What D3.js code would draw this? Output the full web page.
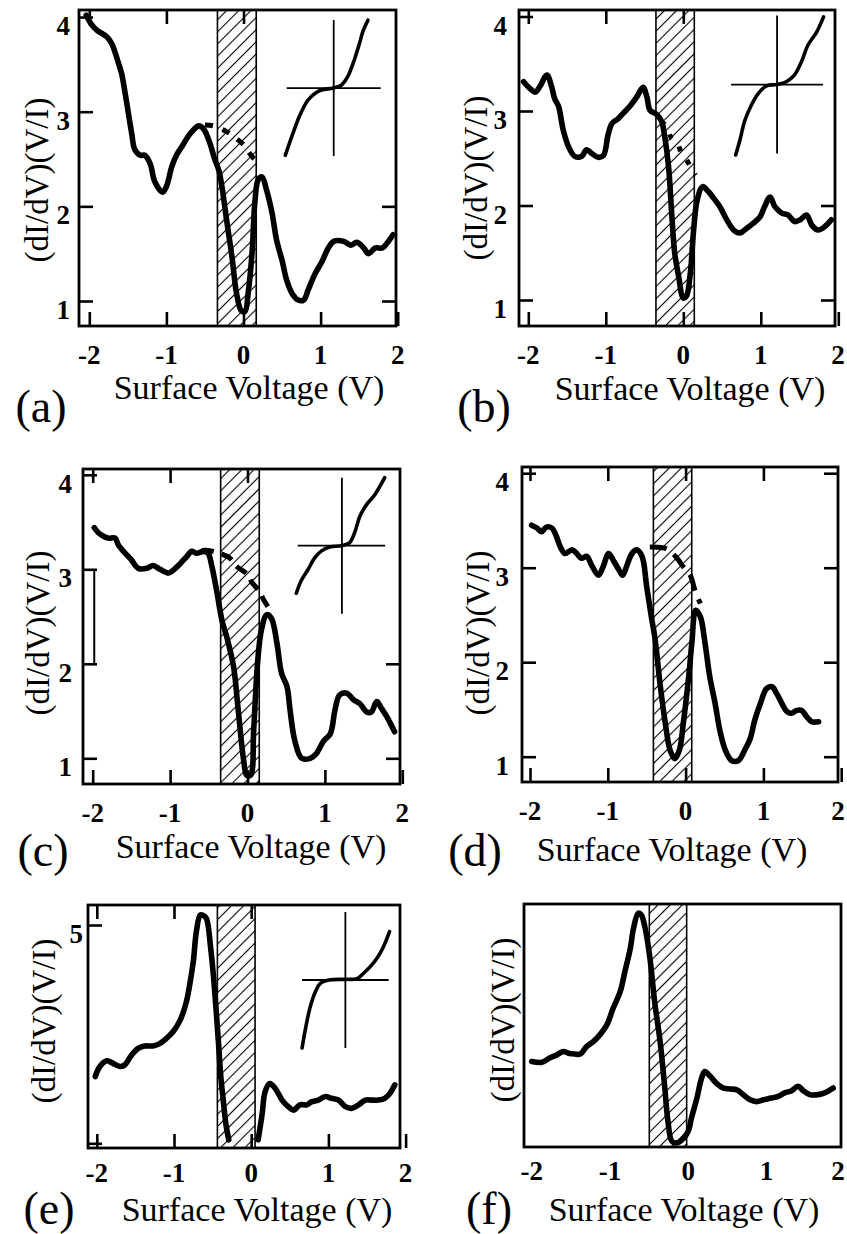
<!DOCTYPE html>
<html>
<head>
<meta charset="utf-8">
<script src="https://cdn.jsdelivr.net/npm/d3@7"></script>
<style>
  body { margin: 0; background: #fff; }
</style>
</head>
<body>
<div id="fig"></div>
<script>
//----------------------------------------------------------------
// data, (dI/dV)/(I/V) against sample bias
//----------------------------------------------------------------
var xTicks = [-2, -1, 0, 1, 2];
var yTicks = [1, 2, 3, 4];
var yTicksE = [0, 5];
var yLabelsE = ["", "5"];
var tags = ["(a)", "(b)", "(c)", "(d)", "(e)", "(f)"];
var xTitle = "Surface Voltage (V)";
var yTitle = "(dI/dV)(V/I)";

// (a)
var voltA = [-2.04,-1.97,-1.90,-1.77,-1.71,-1.62,-1.58,-1.52,-1.45,-1.41,-1.34,-1.28,-1.21,-1.15,-1.05,-1.00,-0.93,-0.87,-0.80,-0.69,-0.58,-0.52,-0.45,-0.37,-0.32,-0.28,-0.22,-0.15,-0.09,-0.03,0.02,0.06,0.11,0.15,0.19,0.24,0.30,0.37,0.43,0.50,0.56,0.63,0.71,0.78,0.84,0.93,1.02,1.10,1.17,1.30,1.39,1.47,1.56,1.62,1.71,1.80,1.86,1.94];
var condA = [4.02,3.92,3.86,3.79,3.72,3.51,3.40,3.12,2.77,2.60,2.54,2.54,2.45,2.26,2.15,2.21,2.42,2.54,2.63,2.77,2.85,2.82,2.70,2.49,2.38,2.21,1.86,1.47,1.08,0.90,0.89,1.08,1.50,2.07,2.28,2.31,2.17,1.93,1.64,1.43,1.22,1.08,1.01,1.01,1.12,1.29,1.42,1.56,1.63,1.63,1.59,1.62,1.56,1.50,1.56,1.56,1.61,1.70];
var dashVoltA = [-0.50,-0.39,-0.22,-0.13,0.00,0.06,0.15,0.24];
var dashCondA = [2.86,2.85,2.79,2.74,2.65,2.58,2.49,2.44];
var gapA = [-0.338, 0.165];
var ivUA = [-1.03,-0.87,-0.72,-0.55,-0.40,-0.26,-0.01,0.16,0.30,0.41,0.55,0.62,0.73];
var ivWA = [-0.99,-0.67,-0.40,-0.18,-0.08,-0.03,0,0.04,0.17,0.36,0.66,0.83,1.0];

// (b)
var voltB = [-2.06,-1.98,-1.91,-1.85,-1.76,-1.70,-1.66,-1.61,-1.55,-1.48,-1.40,-1.31,-1.25,-1.18,-1.10,-1.03,-0.97,-0.92,-0.84,-0.77,-0.69,-0.60,-0.52,-0.47,-0.43,-0.34,-0.28,-0.24,-0.19,-0.15,-0.11,-0.06,0.00,0.04,0.09,0.13,0.18,0.25,0.32,0.39,0.47,0.56,0.65,0.73,0.82,0.90,0.99,1.05,1.12,1.18,1.27,1.35,1.44,1.51,1.59,1.66,1.74,1.83,1.91];
var condB = [3.31,3.24,3.20,3.26,3.38,3.26,3.13,3.05,2.80,2.62,2.52,2.52,2.59,2.55,2.51,2.53,2.75,2.87,2.92,2.98,3.05,3.15,3.25,3.15,3.01,2.96,2.89,2.73,2.41,1.92,1.49,1.25,1.02,1.04,1.28,1.71,2.06,2.20,2.15,2.08,1.99,1.85,1.74,1.71,1.76,1.81,1.88,1.99,2.09,1.99,1.92,1.90,1.83,1.85,1.90,1.79,1.74,1.78,1.85];
var dashVoltB = [-0.30,-0.24,-0.15,-0.09,-0.02,0.03,0.11,0.16];
var dashCondB = [2.87,2.86,2.71,2.68,2.55,2.50,2.38,2.32];
var gapB = [-0.353, 0.142];
var ivUB = [-0.90,-0.81,-0.70,-0.56,-0.41,-0.23,0,0.20,0.38,0.53,0.67,0.86,1.01];
var ivWB = [-1.02,-0.81,-0.52,-0.30,-0.13,-0.02,0,0.04,0.14,0.33,0.57,0.76,0.98];

// (c)
var voltC = [-1.98,-1.93,-1.86,-1.80,-1.71,-1.67,-1.58,-1.50,-1.41,-1.30,-1.22,-1.13,-1.02,-0.96,-0.87,-0.79,-0.72,-0.66,-0.57,-0.51,-0.46,-0.40,-0.33,-0.27,-0.18,-0.12,-0.05,-0.01,0.04,0.08,0.13,0.18,0.25,0.31,0.38,0.44,0.51,0.55,0.61,0.70,0.81,0.89,0.98,1.07,1.13,1.19,1.28,1.37,1.45,1.54,1.60,1.67,1.73,1.80,1.90];
var condC = [3.44,3.39,3.35,3.33,3.33,3.26,3.17,3.10,3.01,3.01,3.04,3.00,2.96,2.99,3.06,3.13,3.19,3.17,3.19,3.17,3.03,2.78,2.46,2.29,1.97,1.51,0.98,0.82,0.82,1.30,2.01,2.36,2.52,2.48,2.22,1.90,1.76,1.51,1.19,1.00,1.00,1.05,1.18,1.26,1.51,1.67,1.69,1.62,1.58,1.49,1.49,1.60,1.53,1.44,1.28];
var dashVoltC = [-0.59,-0.51,-0.36,-0.23,-0.14,0.01,0.05,0.16,0.20,0.29];
var dashCondC = [3.20,3.20,3.17,3.12,3.03,2.94,2.87,2.76,2.69,2.57];
var gapC = [-0.347, 0.152];
var bracketC = [[-1.98, 3], [-1.98, 2]];
var ivUC = [-0.97,-0.87,-0.72,-0.58,-0.44,-0.26,0,0.16,0.27,0.38,0.52,0.70,0.91];
var ivWC = [-0.70,-0.52,-0.35,-0.18,-0.08,-0.02,0,0.04,0.19,0.43,0.60,0.75,1.0];

// (d)
var voltD = [-1.98,-1.91,-1.85,-1.79,-1.72,-1.66,-1.61,-1.55,-1.46,-1.40,-1.34,-1.27,-1.21,-1.12,-1.06,-0.99,-0.93,-0.86,-0.81,-0.76,-0.71,-0.67,-0.63,-0.56,-0.50,-0.44,-0.39,-0.33,-0.26,-0.20,-0.14,-0.08,-0.03,0.04,0.08,0.13,0.19,0.25,0.31,0.38,0.44,0.51,0.59,0.68,0.76,0.83,0.89,0.96,1.04,1.11,1.17,1.24,1.30,1.36,1.43,1.49,1.56,1.62,1.71];
var condD = [3.45,3.42,3.38,3.43,3.42,3.33,3.22,3.15,3.19,3.15,3.10,3.12,3.03,2.92,3.01,3.15,3.08,2.98,2.92,3.01,3.12,3.17,3.19,3.12,2.80,2.48,2.23,1.78,1.35,1.07,0.98,1.07,1.35,1.85,2.20,2.55,2.48,2.20,1.85,1.56,1.28,1.07,0.96,0.96,1.07,1.19,1.39,1.56,1.72,1.74,1.67,1.56,1.48,1.46,1.49,1.49,1.42,1.37,1.37];
var dashVoltD = [-0.46,-0.24,-0.11,-0.03,0.06,0.12,0.19];
var dashCondD = [3.22,3.20,3.10,3.01,2.92,2.76,2.62];
var gapD = [-0.414, 0.079];

// (e)  null = break in the trace
var voltE = [-2.02,-1.96,-1.87,-1.79,-1.70,-1.64,-1.55,-1.46,-1.38,-1.27,-1.18,-1.10,-1.01,-0.92,-0.84,-0.79,-0.75,-0.71,-0.66,-0.62,-0.58,-0.525,-0.49,-0.456,-0.425,-0.395,-0.36,-0.326,-0.29,-0.10,0.09,0.14,0.18,0.24,0.31,0.40,0.48,0.55,0.63,0.72,0.78,0.87,0.96,1.04,1.13,1.22,1.30,1.39,1.48,1.56,1.65,1.73,1.80,1.86];
var condE = [1.53,1.76,1.89,1.83,1.76,1.79,2.02,2.18,2.23,2.23,2.29,2.40,2.56,2.82,3.24,3.70,4.16,4.85,5.23,5.22,5.15,4.47,3.85,3.09,2.33,1.56,0.95,0.42,0.08,null,0.08,0.65,1.18,1.37,1.26,0.99,0.84,0.76,0.88,0.88,0.95,0.99,1.07,1.03,0.99,0.84,0.80,0.88,0.99,0.99,0.99,1.03,1.15,1.34];
var gapE = [-0.438, 0.05];
var ivUE = [-1,-0.92,-0.81,-0.69,-0.58,-0.38,0,0.27,0.42,0.58,0.73,0.88,1.02];
var ivWE = [-1,-0.71,-0.39,-0.17,-0.05,0,0.01,0.02,0.10,0.20,0.32,0.49,0.71];

// (f)
var voltF = [-2.0,-1.87,-1.77,-1.68,-1.60,-1.53,-1.45,-1.38,-1.30,-1.21,-1.13,-1.04,-0.96,-0.87,-0.81,-0.74,-0.70,-0.64,-0.60,-0.55,-0.49,-0.43,-0.36,-0.30,-0.26,-0.21,-0.15,-0.06,0.00,0.04,0.11,0.17,0.21,0.28,0.36,0.45,0.53,0.62,0.70,0.79,0.87,0.96,1.06,1.15,1.23,1.32,1.40,1.47,1.55,1.66,1.74,1.85];
var condF = [1.87,1.85,1.95,2.02,2.10,2.06,2.04,2.04,2.21,2.33,2.48,2.71,3.09,3.47,3.93,4.47,4.92,5.27,5.23,4.92,4.24,3.24,2.33,1.26,0.50,0.04,0.00,0.11,0.27,0.57,1.03,1.49,1.64,1.53,1.37,1.26,1.24,1.22,1.11,0.99,0.95,0.99,1.03,1.07,1.15,1.20,1.30,1.20,1.11,1.11,1.15,1.26];
var gapF = [-0.498, -0.021];

//----------------------------------------------------------------
// page layout (pixels) for each panel
//----------------------------------------------------------------
var serif = "'Liberation Serif', 'Times New Roman', 'DejaVu Serif', serif";
var W = 847, H = 1234;

var panels = [
  { tag: tags[0], volt: voltA, cond: condA, dv: dashVoltA, dc: dashCondA, dash: "8,10", gap: gapA,
    frame: [79, 10, 396, 326], xr: [89.3, 397.7], yd: [1, 3], yr: [301, 111.7],
    left: yTicks, leftLab: yTicks.map(String), top: [-2, -1, 0], right: [1, 2], bottom: xTicks,
    labOff: 38, labGap: 9, yt: [36, 180], xt: [249, 399], tg: [41, 422],
    iu: ivUA, iw: ivWA, inAt: [1.17, 3.25], inHalf: [47, 68], inAxis: [-1, 1] },
  { tag: tags[1], volt: voltB, cond: condB, dv: dashVoltB, dc: dashCondB, dash: "5,11", gap: gapB,
    frame: [519, 10, 835, 326], xr: [528.3, 838.3], yd: [1, 3], yr: [300, 111],
    left: yTicks, leftLab: yTicks.map(String), top: [-2, -1, 0], right: [1, 2], bottom: xTicks,
    labOff: 38, labGap: 12, yt: [475, 178], xt: [690, 400], tg: [484, 422],
    iu: ivUB, iw: ivWB, inAt: [1.21, 3.28], inHalf: [46, 69], inAxis: [-1, 1] },
  { tag: tags[2], volt: voltC, cond: condC, dv: dashVoltC, dc: dashCondC, dash: "12,8", gap: gapC,
    frame: [83, 469, 400, 784], xr: [92.7, 402.3], yd: [1, 3], yr: [758.3, 569.3],
    left: yTicks, leftLab: yTicks.map(String), top: [-2, -1, 0], right: [1, 2], bottom: xTicks,
    labOff: 38, labGap: 11, yt: [37, 633], xt: [251, 858], tg: [43, 866], bracket: bracketC,
    iu: ivUC, iw: ivWC, inAt: [1.22, 3.25], inHalf: [47, 68], inAxis: [-0.94, 0.92] },
  { tag: tags[3], volt: voltD, cond: condD, dv: dashVoltD, dc: dashCondD, dash: "17,9", gap: gapD,
    frame: [522, 467, 838, 782], xr: [530, 841.2], yd: [1, 3], yr: [756.7, 567.7],
    left: yTicks, leftLab: yTicks.map(String), top: [-2, -1, 0, 1], right: yTicks, bottom: xTicks,
    labOff: 38, labGap: 13, yt: [477, 633], xt: [672, 861], tg: [475, 866] },
  { tag: tags[4], volt: voltE, cond: condE, gap: gapE,
    frame: [88, 905, 400, 1148], xr: [96.8, 405.6], yd: [0, 5], yr: [1143.3, 925],
    left: yTicksE, leftLab: yLabelsE, top: [-2, -1, 0], right: [], bottom: xTicks,
    labOff: 34, labGap: 5, yt: [43, 1021], xt: [257, 1221], tg: [49, 1224],
    iu: ivUE, iw: ivWE, inAt: [1.22, 3.74], inHalf: [43.3, 68], inAxis: [-1, 1] },
  { tag: tags[5], volt: voltF, cond: condF, gap: gapF,
    frame: [524, 904, 841, 1147], xr: [531.7, 844.9], yd: [0, 5], yr: [1143, 925],
    left: [], leftLab: [], top: [], right: [], bottom: [],
    labOff: 33, labGap: 8, yt: [502, 1020], xt: [684, 1221], tg: [489, 1224] }
];

//----------------------------------------------------------------
var svg = d3.select("#fig").append("svg")
  .attr("width", W)
  .attr("height", H)
  .style("font-family", serif);

// hatching for the gap region
var hatch = svg.append("defs").append("pattern")
  .attr("id", "hatch")
  .attr("patternUnits", "userSpaceOnUse")
  .attr("width", 8.6).attr("height", 8.6)
  .attr("patternTransform", "rotate(45)");
hatch.append("line")
  .attr("x1", 4.3).attr("y1", 0).attr("x2", 4.3).attr("y2", 8.6)
  .attr("stroke", "#000").attr("stroke-width", 1.1);

function tickAxis(g, axis, vals, tr) {
  if (!vals.length) return;
  var a = g.append("g")
    .attr("transform", tr)
    .call(axis.tickValues(vals).tickSizeInner(-14).tickSizeOuter(0).tickFormat(""));
  a.select(".domain").remove();
  a.selectAll("text").remove();
  a.selectAll("line").attr("stroke", "#000").attr("stroke-width", 2.6);
}

function drawPanel(p) {
  var g = svg.append("g");
  var x = d3.scaleLinear().domain([-2, 2]).range(p.xr);
  var y = d3.scaleLinear().domain(p.yd).range(p.yr);
  var L = p.frame[0], T = p.frame[1], R = p.frame[2], B = p.frame[3];

  // hatched gap
  g.append("rect")
    .attr("x", x(p.gap[0])).attr("y", T)
    .attr("width", x(p.gap[1]) - x(p.gap[0])).attr("height", B - T)
    .attr("fill", "url(#hatch)");
  g.selectAll(".edge").data(p.gap).enter().append("line")
    .attr("x1", function (d) { return x(d); }).attr("x2", function (d) { return x(d); })
    .attr("y1", T).attr("y2", B)
    .attr("stroke", "#000").attr("stroke-width", 1.6);

  // frame + inward ticks
  g.append("rect")
    .attr("x", L).attr("y", T).attr("width", R - L).attr("height", B - T)
    .attr("fill", "none").attr("stroke", "#000").attr("stroke-width", 2.8);
  tickAxis(g, d3.axisBottom(x), p.bottom, "translate(0," + B + ")");
  tickAxis(g, d3.axisTop(x), p.top, "translate(0," + T + ")");
  tickAxis(g, d3.axisLeft(y), p.left, "translate(" + L + ",0)");
  tickAxis(g, d3.axisRight(y), p.right, "translate(" + R + ",0)");

  if (p.bracket) {
    g.append("path")
      .attr("d", d3.line().x(function (d) { return x(d[0]); }).y(function (d) { return y(d[1]); })(p.bracket))
      .attr("stroke", "#000").attr("stroke-width", 2);
  }

  // tick labels
  g.selectAll(".xl").data(xTicks).enter().append("text")
    .attr("x", function (d) { return Math.min(x(d), W - 9); })
    .attr("y", B + p.labOff)
    .attr("text-anchor", "middle")
    .style("font-family", serif)
    .style("font-size", "27px").style("font-weight", "bold")
    .text(function (d) { return String(d); });
  g.selectAll(".yl").data(p.left).enter().append("text")
    .attr("x", L - p.labGap)
    .attr("y", function (d) { return y(d) + 18; })
    .attr("text-anchor", "end")
    .style("font-family", serif)
    .style("font-size", "27px").style("font-weight", "bold")
    .text(function (d, i) { return p.leftLab[i]; });

  // titles
  g.append("text")
    .attr("x", p.xt[0]).attr("y", p.xt[1])
    .attr("text-anchor", "middle")
    .style("font-family", serif)
    .style("font-size", "34px")
    .text(xTitle);
  g.append("text")
    .attr("transform", "translate(" + p.yt[0] + "," + p.yt[1] + ") rotate(-90)")
    .attr("dy", "0.35em")
    .attr("text-anchor", "middle")
    .style("font-family", serif)
    .style("font-size", "33px")
    .text(yTitle);
  g.append("text")
    .attr("x", p.tg[0]).attr("y", p.tg[1])
    .attr("text-anchor", "middle")
    .style("font-family", serif)
    .style("font-size", "46px")
    .text(p.tag);

  // inset I-V curve
  if (p.iu) {
    var cx = x(p.inAt[0]), cy = y(p.inAt[1]);
    var iu = d3.scaleLinear().domain([-1, 1]).range([cx - p.inHalf[0], cx + p.inHalf[0]]);
    var iw = d3.scaleLinear().domain([-1, 1]).range([cy + p.inHalf[1], cy - p.inHalf[1]]);
    g.append("line")
      .attr("x1", iu(p.inAxis[0])).attr("x2", iu(p.inAxis[1]))
      .attr("y1", iw(0)).attr("y2", iw(0))
      .attr("stroke", "#000").attr("stroke-width", 1.8);
    g.append("line")
      .attr("x1", iu(0)).attr("x2", iu(0))
      .attr("y1", iw(-1)).attr("y2", iw(1))
      .attr("stroke", "#000").attr("stroke-width", 1.8);
    g.append("path")
      .datum(d3.zip(p.iu, p.iw))
      .attr("d", d3.line().x(function (d) { return iu(d[0]); }).y(function (d) { return iw(d[1]); }).curve(d3.curveCatmullRom))
      .attr("fill", "none").attr("stroke", "#000").attr("stroke-width", 3.6).attr("stroke-linecap", "round");
  }

  // extrapolated (dashed) background
  if (p.dv) {
    g.append("path")
      .datum(d3.zip(p.dv, p.dc))
      .attr("d", d3.line().x(function (d) { return x(d[0]); }).y(function (d) { return y(d[1]); }).curve(d3.curveCatmullRom))
      .attr("fill", "none").attr("stroke", "#000").attr("stroke-width", 5)
      .attr("stroke-dasharray", p.dash);
  }

  // measured spectrum
  var line = d3.line()
    .defined(function (d) { return d[1] != null; })
    .x(function (d) { return x(d[0]); })
    .y(function (d) { return y(d[1]); })
    .curve(d3.curveCatmullRom);
  g.append("path")
    .datum(d3.zip(p.volt, p.cond))
    .attr("d", line)
    .attr("fill", "none").attr("stroke", "#000").attr("stroke-width", 5.6)
    .attr("stroke-linejoin", "round").attr("stroke-linecap", "round");
}

panels.forEach(drawPanel);
</script>
</body>
</html>
